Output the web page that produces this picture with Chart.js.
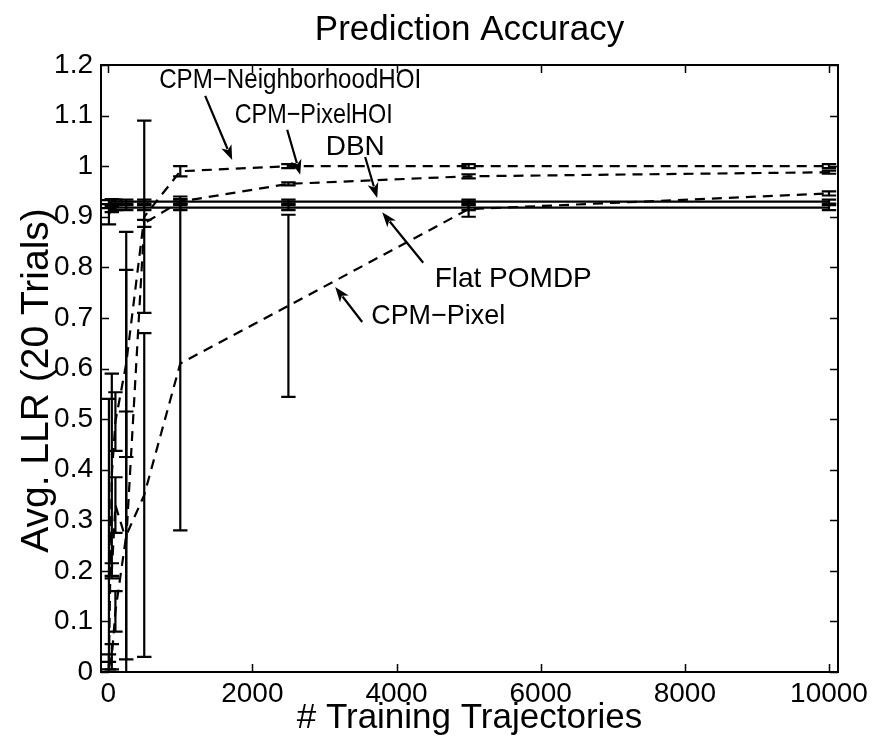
<!DOCTYPE html>
<html>
<head>
<meta charset="utf-8">
<script src="https://cdn.jsdelivr.net/npm/chart.js@4.4.1/dist/chart.umd.min.js"></script>
<style>
  html, body { margin: 0; padding: 0; background: #fff; }
  #wrap { width: 875px; height: 745px; }
</style>
</head>
<body>
<div id="wrap"><canvas id="chart-accuracy" width="875" height="745"></canvas></div>
<script>
// Prediction accuracy vs. number of training trajectories (mean +/- error)
const chartTitle = 'Prediction Accuracy';
const yAxisTitle = 'Avg. LLR (20 Trials)';
const trainingSizes = [10, 50, 100, 250, 500, 1000, 2500, 5000, 10000];
const xTickValues = [0, 2000, 4000, 6000, 8000, 10000];

const flatPomdpMean = [0.905, 0.915, 0.918, 0.918, 0.918, 0.918, 0.918, 0.918, 0.918];
const flatPomdpErr  = [0.020, 0.006, 0.005, 0.005, 0.005, 0.005, 0.005, 0.005, 0.005];

const dbnMean = [0.925, 0.930, 0.930, 0.930, 0.930, 0.930, 0.930, 0.930, 0.930];
const dbnErr  = [0.008, 0.005, 0.004, 0.004, 0.004, 0.004, 0.004, 0.004, 0.004];

const pixelHoiMean = [0.27, 0.20, 0.33, 0.26, 0.887, 0.930, 0.965, 0.980, 0.988];
const pixelHoiErr  = [0.27, 0.015, 0.055, 0.61, 0.007, 0.005, 0.003, 0.004, 0.003];

const neighborhoodHoiMean = [0.02, 0.39, 0.495, 0.61, 0.90, 0.99, 1.000, 1.000, 1.000];
const neighborhoodHoiErr  = [0.015, 0.20, 0.058, 0.185, 0.19, 0.01, 0.004, 0.004, 0.004];

const cpmPixelMean = [0.01, 0.03, 0.12, 0.27, 0.35, 0.61, 0.724, 0.915, 0.946];
const cpmPixelErr  = [0.01, 0.025, 0.04, 0.245, 0.32, 0.33, 0.18, 0.015, 0.004];

// text labels with arrows, in data units
const labelTexts = ['CPM\u2212NeighborhoodHOI', 'CPM\u2212PixelHOI', 'DBN', 'Flat POMDP', 'CPM\u2212Pixel'];
const labelPos   = [[2525, 1.170], [2851, 1.101], [3427, 1.038], [5619, 0.777], [4578, 0.704]];
const arrowTail  = [[1346, 1.139], [2483, 1.072], [3565, 1.018], [4370, 0.809], [3524, 0.692]];
const arrowTip   = [[1720, 1.012], [2664, 0.983], [3732, 0.937], [3801, 0.909], [3149, 0.761]];
const labelMaxWidth = [262, 158, undefined, undefined, 134];

const FONT = '"Liberation Sans", Arial, Helvetica, sans-serif';
const DASH = [10, 7];

function series(label, mean, err, dashed) {
    return {
        label,
        data: trainingSizes.map((x, i) => ({ x, y: mean[i] })),
        errors: err,
        borderColor: '#000',
        borderWidth: 2.2,
        borderDash: dashed ? DASH : [],
        pointRadius: 0,
        tension: 0,
        fill: false,
    };
}

const errorBarPlugin = {
    id: 'errorBars',
    afterDatasetsDraw(chart) {
        const { ctx, chartArea: a, scales: { x, y } } = chart;
        const tee = (Math.max(...trainingSizes) - Math.min(...trainingSizes)) / 100;
        ctx.save();
        ctx.beginPath();
        ctx.rect(a.left, a.top, a.right - a.left, a.bottom - a.top);
        ctx.clip();
        ctx.strokeStyle = '#000';
        ctx.lineWidth = 2.2;
        ctx.setLineDash([]);
        chart.data.datasets.forEach(ds => {
            ds.data.forEach((p, i) => {
                const e = ds.errors[i];
                const px = x.getPixelForValue(p.x);
                const half = x.getPixelForValue(p.x + tee) - px;
                const yLo = y.getPixelForValue(p.y - e);
                const yHi = y.getPixelForValue(p.y + e);
                ctx.beginPath();
                ctx.moveTo(px, yLo); ctx.lineTo(px, yHi);
                ctx.moveTo(px - half, yLo); ctx.lineTo(px + half, yLo);
                ctx.moveTo(px - half, yHi); ctx.lineTo(px + half, yHi);
                ctx.stroke();
            });
        });
        ctx.restore();
    },
};

const frameAndLabelsPlugin = {
    id: 'frameAndLabels',
    afterDraw(chart) {
        const { ctx, chartArea: a, scales: { x, y } } = chart;
        ctx.save();
        ctx.strokeStyle = '#000';
        ctx.fillStyle = '#000';
        ctx.setLineDash([]);
        // inward ticks on all four sides
        ctx.lineWidth = 1.5;
        const tl = 8;
        ctx.beginPath();
        y.ticks.forEach(t => {
            const py = Math.round(y.getPixelForValue(t.value)) + 0.5;
            ctx.moveTo(a.left, py); ctx.lineTo(a.left + tl, py);
            ctx.moveTo(a.right, py); ctx.lineTo(a.right - tl, py);
        });
        xTickValues.forEach(v => {
            const px = Math.round(x.getPixelForValue(v)) + 0.5;
            ctx.moveTo(px, a.bottom); ctx.lineTo(px, a.bottom - tl);
            ctx.moveTo(px, a.top); ctx.lineTo(px, a.top + tl);
        });
        ctx.stroke();
        // box
        ctx.lineWidth = 2;
        ctx.strokeRect(a.left, a.top, a.right - a.left, a.bottom - a.top);

        ctx.textAlign = 'center';
        ctx.textBaseline = 'middle';
        // title, centred over the axes box
        ctx.font = `35px ${FONT}`;
        ctx.fillText(chartTitle, (a.left + a.right) / 2, 30);

        // y axis title, rotated
        ctx.save();
        ctx.translate(37, (a.top + a.bottom) / 2 + 12);
        ctx.rotate(-Math.PI / 2);
        ctx.font = `39px ${FONT}`;
        ctx.fillText(yAxisTitle, 0, 0);
        ctx.restore();

        // labels with arrows
        ctx.font = `28px ${FONT}`;
        labelTexts.forEach((txt, i) => {
            const tx = x.getPixelForValue(labelPos[i][0]), ty = y.getPixelForValue(labelPos[i][1]);
            if (labelMaxWidth[i]) ctx.fillText(txt, tx, ty, labelMaxWidth[i]);
            else ctx.fillText(txt, tx, ty);
            const x0 = x.getPixelForValue(arrowTail[i][0]), y0 = y.getPixelForValue(arrowTail[i][1]);
            const x1 = x.getPixelForValue(arrowTip[i][0]), y1 = y.getPixelForValue(arrowTip[i][1]);
            const ang = Math.atan2(y1 - y0, x1 - x0);
            const len = 15, w = 5.5;
            const bx = x1 - len * Math.cos(ang), by = y1 - len * Math.sin(ang);
            ctx.lineWidth = 2.2;
            ctx.beginPath();
            ctx.moveTo(x0, y0); ctx.lineTo(bx + 3 * Math.cos(ang), by + 3 * Math.sin(ang));
            ctx.stroke();
            ctx.beginPath();
            ctx.moveTo(x1, y1);
            ctx.lineTo(bx - w * Math.sin(ang), by + w * Math.cos(ang));
            ctx.lineTo(bx + 4 * Math.cos(ang), by + 4 * Math.sin(ang));
            ctx.lineTo(bx + w * Math.sin(ang), by - w * Math.cos(ang));
            ctx.closePath();
            ctx.fill();
        });
        ctx.restore();
    },
};

const canvas = document.getElementById('chart-accuracy');
new Chart(canvas.getContext('2d'), {
    type: 'line',
    data: {
        datasets: [
            series('Flat POMDP', flatPomdpMean, flatPomdpErr, false),
            series('DBN', dbnMean, dbnErr, false),
            series('CPM-PixelHOI', pixelHoiMean, pixelHoiErr, true),
            series('CPM-NeighborhoodHOI', neighborhoodHoiMean, neighborhoodHoiErr, true),
            series('CPM-Pixel', cpmPixelMean, cpmPixelErr, true),
        ],
    },
    plugins: [errorBarPlugin, frameAndLabelsPlugin],
    options: {
        responsive: false,
        devicePixelRatio: 1,
        animation: false,
        layout: { padding: { top: 65, right: 37, bottom: 0, left: 0 } },
        plugins: {
            legend: { display: false },
            tooltip: { enabled: false },
            title: { display: false },
        },
        scales: {
            x: {
                type: 'linear',
                min: -100,
                max: 10125,
                afterBuildTicks: s => { s.ticks = xTickValues.map(v => ({ value: v })); },
                afterFit: s => { s.height = 73; },
                grid: { display: false, drawTicks: false },
                border: { display: false },
                ticks: {
                    color: '#000',
                    padding: 5,
                    maxRotation: 0,
                    font: { family: FONT, size: 28 },
                    callback: v => String(v),
                },
                title: {
                    display: true,
                    text: '# Training Trajectories',
                    color: '#000',
                    font: { family: FONT, size: 35 },
                    padding: { top: 0, bottom: 6 },
                },
            },
            y: {
                min: 0,
                max: 1.2,
                afterFit: s => { s.width = 101; },
                grid: { display: false, drawTicks: false },
                border: { display: false },
                ticks: {
                    stepSize: 0.1,
                    color: '#000',
                    padding: 8,
                    font: { family: FONT, size: 28 },
                    callback: v => String(+v.toFixed(1)),
                },
                title: { display: false },
            },
        },
    },
});
</script>
</body>
</html>
